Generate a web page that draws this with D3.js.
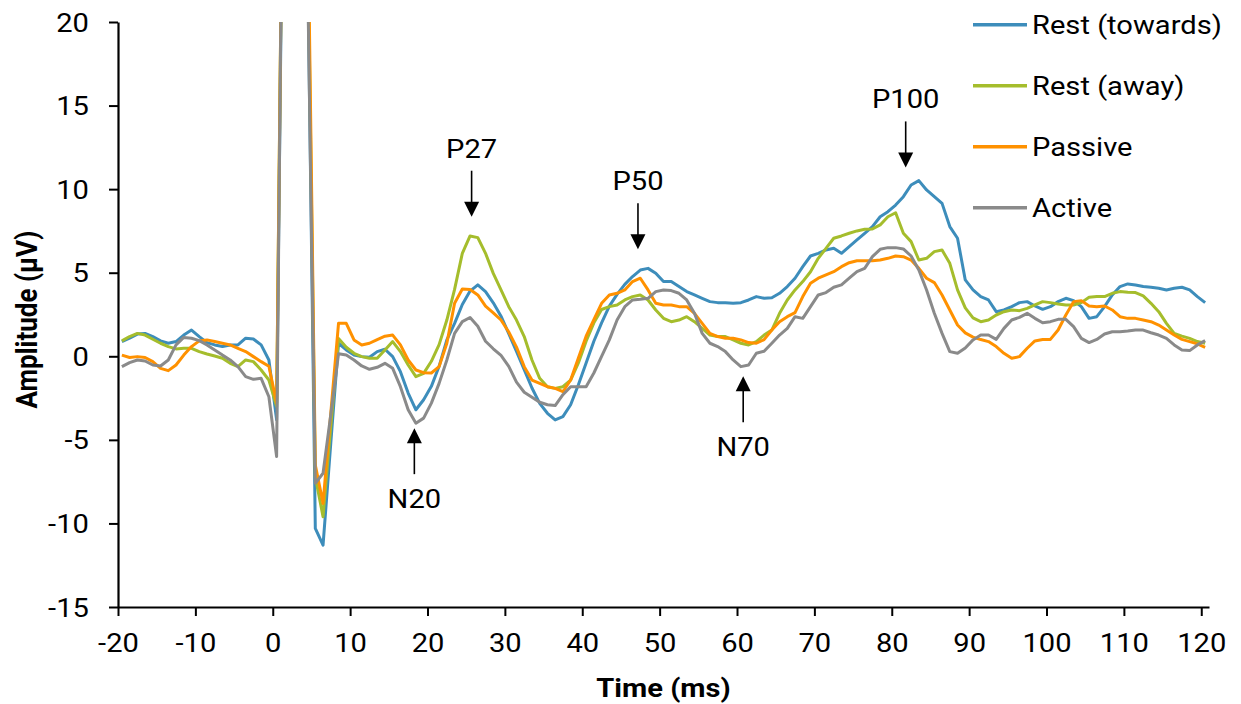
<!DOCTYPE html>
<html>
<head>
<meta charset="utf-8">
<script src="https://cdn.jsdelivr.net/npm/d3@7"></script>
<style>
  body { margin: 0; background: #fff; }
  text { font-family: Roboto, "Noto Sans", sans-serif; }
</style>
</head>
<body>
<div id="chart"></div>
<script>
// sample times (ms)
const times = [
  -19.5, -18.5, -17.5, -16.5, -15.5, -14.5, -13.5, -12.5, -11.5, -10.5,
  -9.5, -8.5, -7.5, -6.5, -5.5, -4.5, -3.5, -2.5, -1.5, -0.5,
  0.5, 1.5, 2.5, 3.5, 4.5, 5.5, 6.5, 7.5, 8.5, 9.5,
  10.5, 11.5, 12.5, 13.5, 14.5, 15.5, 16.5, 17.5, 18.5, 19.5,
  20.5, 21.5, 22.5, 23.5, 24.5, 25.5, 26.5, 27.5, 28.5, 29.5,
  30.5, 31.5, 32.5, 33.5, 34.5, 35.5, 36.5, 37.5, 38.5, 39.5,
  40.5, 41.5, 42.5, 43.5, 44.5, 45.5, 46.5, 47.5, 48.5, 49.5,
  50.5, 51.5, 52.5, 53.5, 54.5, 55.5, 56.5, 57.5, 58.5, 59.5,
  60.5, 61.5, 62.5, 63.5, 64.5, 65.5, 66.5, 67.5, 68.5, 69.5,
  70.5, 71.5, 72.5, 73.5, 74.5, 75.5, 76.5, 77.5, 78.5, 79.5,
  80.5, 81.5, 82.5, 83.5, 84.5, 85.5, 86.5, 87.5, 88.5, 89.5,
  90.5, 91.5, 92.5, 93.5, 94.5, 95.5, 96.5, 97.5, 98.5, 99.5,
  100.5, 101.5, 102.5, 103.5, 104.5, 105.5, 106.5, 107.5, 108.5, 109.5,
  110.5, 111.5, 112.5, 113.5, 114.5, 115.5, 116.5, 117.5, 118.5, 119.5,
  120.5
];

const restTowards = [
  0.88, 1.08, 1.33, 1.37, 1.18, 0.92, 0.78, 0.88, 1.27, 1.57,
  1.18, 0.82, 0.68, 0.58, 0.68, 0.68, 1.08, 1.03, 0.68, -0.22,
  -3.8, 38, 60, 58, 24, -10.3, -11.3, -5.2, 0.78, 0.38,
  0.08, -0.02, -0.06, 0.28, 0.42, -0.02, -0.92, -2.2, -3.2, -2.6,
  -1.8, -0.6, 0.98, 1.97, 3.1, 3.9, 4.27, 3.87, 3.2, 2.4,
  1.35, 0.3, -0.8, -1.9, -2.82, -3.41, -3.81, -3.61, -2.9, -1.7,
  -0.4, 0.9, 2.0, 3.0, 3.7, 4.3, 4.77, 5.16, 5.26, 4.97,
  4.47, 4.47, 4.17, 3.87, 3.67, 3.47, 3.27, 3.21, 3.21, 3.17,
  3.21, 3.37, 3.57, 3.47, 3.5, 3.77, 4.17, 4.67, 5.36, 6.0,
  6.16, 6.36, 6.46, 6.16, 6.56, 6.96, 7.36, 7.76, 8.35, 8.65,
  9.05, 9.55, 10.25, 10.51, 9.95, 9.55, 9.15, 7.76, 7.06, 4.57,
  3.97, 3.57, 3.37, 2.67, 2.77, 2.97, 3.21, 3.27, 3.01, 2.81,
  2.97, 3.27, 3.47, 3.33, 2.97, 2.27, 2.37, 2.97, 3.67, 4.17,
  4.33, 4.27, 4.17, 4.13, 4.07, 3.97, 4.07, 4.13, 3.97, 3.57,
  3.21
];

const restAway = [
  0.92, 1.18, 1.37, 1.27, 1.02, 0.78, 0.58, 0.44, 0.48, 0.48,
  0.28, 0.14, 0.02, -0.12, -0.42, -0.62, -0.22, -0.32, -0.82, -1.42,
  -3.0, 40, 62, 60, 26, -7.2, -9.6, -4.2, 1.07, 0.54,
  0.18, -0.02, -0.12, -0.12, 0.38, 0.88, 0.28, -0.52, -1.22, -1.02,
  -0.3, 0.7, 2.17, 4.0, 6.16, 7.2, 7.1, 6.16, 4.96, 3.97,
  2.97, 2.17, 1.18, -0.22, -1.32, -1.82, -1.92, -1.82, -1.42, -0.4,
  0.9, 2.0, 2.8, 2.97, 3.07, 3.37, 3.57, 3.67, 3.37, 2.77,
  2.27, 2.07, 2.17, 2.37, 2.07, 1.67, 1.27, 1.18, 1.18, 0.98,
  0.78, 0.68, 0.88, 1.27, 1.57, 2.57, 3.37, 3.97, 4.47, 5.06,
  5.86, 6.46, 7.06, 7.2, 7.36, 7.5, 7.6, 7.62, 7.86, 8.35,
  8.59, 7.36, 6.86, 5.76, 5.86, 6.26, 6.36, 5.56, 3.97, 2.9,
  2.3, 2.07, 2.17, 2.47, 2.67, 2.77, 2.73, 2.87, 3.07, 3.27,
  3.21, 3.13, 3.07, 3.07, 3.21, 3.53, 3.57, 3.57, 3.77, 3.87,
  3.83, 3.81, 3.61, 3.17, 2.67, 1.97, 1.37, 1.21, 1.07, 0.88,
  0.78
];

const passive = [
  0.07, -0.07, -0.02, -0.07, -0.32, -0.72, -0.86, -0.52, 0.07, 0.58,
  0.92, 0.98, 0.88, 0.78, 0.68, 0.48, 0.28, -0.02, -0.32, -0.6,
  -2.8, 40, 62, 60, 28, -6.5, -8.8, -3.4, 1.97, 1.97,
  0.98, 0.68, 0.78, 1.0, 1.2, 1.27, 0.68, -0.22, -0.82, -0.98,
  -1.0, -0.62, 0.78, 3.17, 4.03, 4.0, 3.67, 3.0, 2.6, 2.17,
  1.45, 0.55, -0.62, -1.42, -1.62, -1.82, -1.92, -2.12, -1.42, -0.1,
  1.2, 2.2, 3.17, 3.67, 3.77, 3.97, 4.47, 4.67, 3.97, 3.17,
  3.07, 3.07, 2.97, 2.97, 2.57, 1.97, 1.37, 1.18, 1.08, 1.08,
  0.98, 0.82, 0.78, 1.0, 1.57, 2.07, 2.37, 2.61, 3.57, 4.37,
  4.67, 4.87, 5.06, 5.36, 5.6, 5.72, 5.72, 5.72, 5.76, 5.86,
  6.0, 5.96, 5.76, 5.26, 4.67, 4.41, 3.67, 2.77, 1.87, 1.4,
  1.15, 1.0, 0.88, 0.58, 0.18, -0.12, -0.02, 0.48, 0.92, 1.01,
  1.01, 1.57, 2.47, 3.27, 3.33, 3.01, 2.97, 3.01, 2.77, 2.37,
  2.27, 2.27, 2.17, 2.07, 1.87, 1.57, 1.27, 1.01, 0.88, 0.74,
  0.54
];

const active = [
  -0.62, -0.38, -0.22, -0.28, -0.52, -0.58, -0.22, 0.68, 1.13, 1.08,
  0.94, 0.68, 0.38, 0.07, -0.22, -0.62, -1.22, -1.38, -1.32, -2.42,
  -6.0, 42, 60, 55, 23, -7.6, -7.0, -3.5, 0.15, 0.08,
  -0.22, -0.58, -0.78, -0.66, -0.42, -0.72, -1.82, -3.2, -4.0, -3.7,
  -2.8, -1.62, -0.22, 1.37, 2.07, 2.32, 1.8, 0.9, 0.45, 0.05,
  -0.6, -1.55, -2.15, -2.45, -2.75, -2.9, -2.95, -2.3, -1.82, -1.82,
  -1.82, -1.0, 0.0, 0.98, 2.17, 2.97, 3.37, 3.41, 3.47, 3.87,
  3.97, 3.93, 3.77, 3.37, 2.57, 1.37, 0.78, 0.58, 0.28, -0.22,
  -0.62, -0.52, 0.18, 0.3, 0.78, 1.27, 1.67, 2.37, 2.27, 2.97,
  3.67, 3.81, 4.13, 4.27, 4.67, 5.06, 5.26, 5.96, 6.4, 6.5,
  6.5, 6.42, 6.0, 5.16, 3.97, 2.57, 1.37, 0.28, 0.18, 0.5,
  0.98, 1.27, 1.27, 1.01, 1.67, 2.17, 2.33, 2.57, 2.27, 2.01,
  2.07, 2.21, 2.21, 1.77, 1.07, 0.82, 1.01, 1.33, 1.47, 1.47,
  1.51, 1.57, 1.57, 1.41, 1.27, 1.07, 0.68, 0.38, 0.34, 0.68,
  0.94
];

const seriesNames = ['Rest (towards)', 'Rest (away)', 'Passive', 'Active'];
const seriesColors = ['#3d8dbb', '#a5bd2c', '#ff9100', '#8a8a8a'];
const seriesValues = [restTowards, restAway, passive, active];

const xTicks = [-20, -10, 0, 10, 20, 30, 40, 50, 60, 70, 80, 90, 100, 110, 120];
const yTicks = [-15, -10, -5, 0, 5, 10, 15, 20];

// peak annotations: label, time (ms), amplitude at arrow tip
const peakLabels = ['N20', 'P27', 'P50', 'N70', 'P100'];
const peakTimes = [18.3, 25.7, 47.2, 60.8, 81.8];
const peakAmps = [-4.3, 8.35, 6.4, -1.2, 11.3];

const totalWidth = 1241, totalHeight = 704;
const margin = { top: 22, right: 32, bottom: 97, left: 118 };
const width = totalWidth - margin.left - margin.right;
const height = totalHeight - margin.top - margin.bottom;
const fontSize = '26px';
const stretch = 'scale(1.12,1)'; // glyphs in the original are a bit wider than Roboto

const svg = d3.select('#chart')
  .append('svg')
  .attr('width', totalWidth)
  .attr('height', totalHeight)
  .append('g')
  .attr('transform', `translate(${margin.left}, ${margin.top})`);

const xScale = d3.scaleLinear().domain([-20, 121]).range([0, width]);
const yScale = d3.scaleLinear().domain([-15, 20]).range([height, 0]);

svg.append('clipPath')
  .attr('id', 'plot-clip')
  .append('rect')
  .attr('x', 0)
  .attr('y', 0)
  .attr('width', width)
  .attr('height', height);

// axes
const xAxis = svg.append('g')
  .attr('transform', `translate(0, ${height})`)
  .call(d3.axisBottom(xScale).tickValues(xTicks).tickFormat(d => String(d))
    .tickSize(9).tickPadding(18).tickSizeOuter(0));
const yAxis = svg.append('g')
  .call(d3.axisLeft(yScale).tickValues(yTicks).tickFormat(d => String(d))
    .tickSize(9).tickPadding(17).tickSizeOuter(0));

[xAxis, yAxis].forEach(ax => {
  ax.select('.domain').attr('stroke', '#000').attr('stroke-width', 2.2);
  ax.selectAll('.tick line').attr('stroke', '#000').attr('stroke-width', 2);
  ax.selectAll('.tick text')
    .attr('fill', '#000')
    .attr('transform', stretch)
    .style('font-size', fontSize)
    .style('font-family', 'Roboto, sans-serif');
});
yAxis.selectAll('.tick text').attr('dy', '0.35em');

// lines
const line = d3.line()
  .x((d, i) => xScale(times[i]))
  .y(d => yScale(d));

const plot = svg.append('g').attr('clip-path', 'url(#plot-clip)');
seriesValues.forEach((vals, i) => {
  plot.append('path')
    .datum(vals)
    .attr('fill', 'none')
    .attr('stroke', seriesColors[i])
    .attr('stroke-width', 3)
    .attr('stroke-linejoin', 'round')
    .attr('d', line);
});

// axis titles
svg.append('text')
  .attr('transform', `translate(${width / 2}, ${height + 90}) ${stretch}`)
  .attr('text-anchor', 'middle')
  .style('font-size', fontSize)
  .style('font-weight', 'bold')
  .text('Time (ms)');

svg.append('text')
  .attr('transform', `translate(${-81}, ${yScale(2.2)}) rotate(-90) scale(1,1.12)`)
  .attr('text-anchor', 'middle')
  .style('font-size', fontSize)
  .style('font-weight', 'bold')
  .text('Amplitude (μV)');

// peak arrows
const arrowLen = 46;
peakLabels.forEach((lab, i) => {
  const x = xScale(peakTimes[i]);
  const tipY = yScale(peakAmps[i]);
  const up = lab[0] === 'N'; // negative peaks: arrow points up from below
  const startY = up ? tipY + arrowLen : tipY - arrowLen;
  svg.append('line')
    .attr('x1', x).attr('x2', x)
    .attr('y1', startY).attr('y2', up ? tipY + 14 : tipY - 14)
    .attr('stroke', '#000')
    .attr('stroke-width', 1.6);
  svg.append('path')
    .attr('d', up
      ? `M${x},${tipY} L${x - 7.5},${tipY + 15} L${x + 7.5},${tipY + 15} Z`
      : `M${x},${tipY} L${x - 7.5},${tipY - 15} L${x + 7.5},${tipY - 15} Z`)
    .attr('fill', '#000');
  svg.append('text')
    .attr('transform', `translate(${x}, ${up ? startY + 34 : startY - 13}) ${stretch}`)
    .attr('text-anchor', 'middle')
    .style('font-size', fontSize)
    .text(lab);
});

// legend
const legend = svg.append('g')
  .attr('transform', `translate(${973 - margin.left}, ${24.7 - margin.top})`);
seriesNames.forEach((name, i) => {
  const row = legend.append('g').attr('transform', `translate(0, ${i * 61})`);
  row.append('line')
    .attr('x1', 0).attr('x2', 54)
    .attr('y1', 0).attr('y2', 0)
    .attr('stroke', seriesColors[i])
    .attr('stroke-width', 3.5);
  row.append('text')
    .attr('transform', `translate(59, 0) ${stretch}`)
    .attr('dy', '0.35em')
    .style('font-size', fontSize)
    .text(name);
});
</script>
</body>
</html>
